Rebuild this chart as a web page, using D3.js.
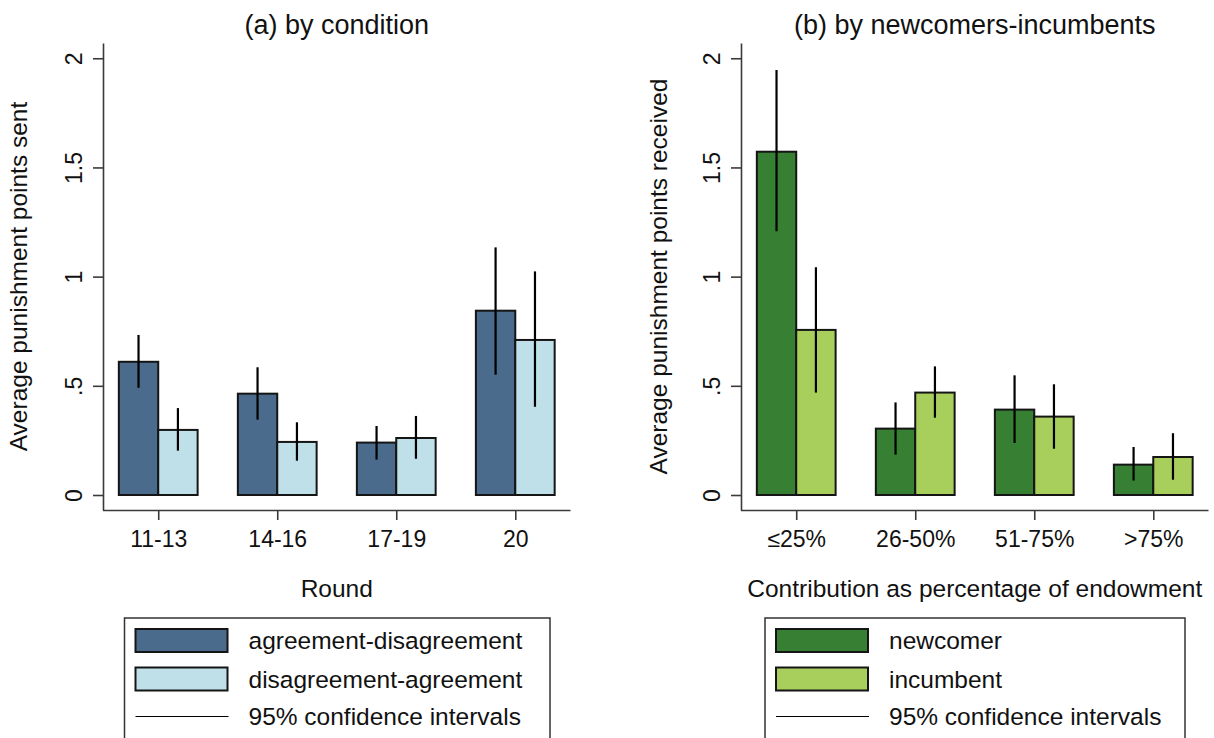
<!DOCTYPE html>
<html>
<head>
<meta charset="utf-8">
<script src="https://cdn.jsdelivr.net/npm/d3@7"></script>
<style>
  html, body { margin: 0; padding: 0; background: #fff; }
  svg { display: block; font-family: "Liberation Sans", Arial, Helvetica, sans-serif; }
</style>
</head>
<body>
<svg id="chart" width="1214" height="738"></svg>
<script>
// ---------- data ----------
const roundCategories = ["11-13", "14-16", "17-19", "20"];
const conditionSeries = ["agreement-disagreement", "disagreement-agreement"];
const agreeDisagree = [0.610, 0.464, 0.240, 0.844];
const agreeDisagreeLo = [0.491, 0.345, 0.162, 0.551];
const agreeDisagreeHi = [0.733, 0.585, 0.316, 1.134];
const disagreeAgree = [0.298, 0.243, 0.261, 0.710];
const disagreeAgreeLo = [0.203, 0.157, 0.166, 0.404];
const disagreeAgreeHi = [0.398, 0.333, 0.362, 1.024];

const contribCategories = ["\u226425%", "26-50%", "51-75%", ">75%"];
const roleSeries = ["newcomer", "incumbent"];
const newcomer = [1.572, 0.304, 0.391, 0.139];
const newcomerLo = [1.208, 0.185, 0.238, 0.066];
const newcomerHi = [1.946, 0.424, 0.548, 0.220];
const incumbent = [0.756, 0.469, 0.359, 0.174];
const incumbentLo = [0.469, 0.354, 0.212, 0.070];
const incumbentHi = [1.043, 0.589, 0.507, 0.283];

const yTickValues = [0, 0.5, 1, 1.5, 2];
const yTickLabels = ["0", ".5", "1", "1.5", "2"];
const ciLabel = "95% confidence intervals";

// ---------- layout ----------
const svg = d3.select("#chart");
const FONT_TICK = 23, FONT_TITLE = 27, FONT_AXIS = 24.5, FONT_LEG = 24.5;
const axisColor = "#3a3a3a";

function panel(opts) {
  const g = svg.append("g");
  const x0 = opts.x0, x1 = opts.x0 + 467.5;
  const x = d3.scalePoint().domain(opts.categories).range([x0, x1]).padding(0.464);
  const y = d3.scaleLinear().domain([-0.0687, 2.0699]).range([510, 43]);
  const barW = x.step() * 0.331;
  const sub = d3.scaleBand().domain(opts.series.map(s => s.name)).range([-barW, barW]);

  // title
  g.append("text").attr("x", (x0 + x1) / 2).attr("y", 34)
    .attr("text-anchor", "middle").attr("font-size", FONT_TITLE).attr("fill", "#111")
    .text(opts.title);

  // bars
  opts.series.forEach(s => {
    const rows = opts.categories.map((c, i) => ({c, v: s.values[i], lo: s.lo[i], hi: s.hi[i]}));
    g.append("g").selectAll("rect").data(rows).join("rect")
      .attr("x", d => x(d.c) + sub(s.name))
      .attr("width", sub.bandwidth())
      .attr("y", d => y(d.v))
      .attr("height", d => y(0) - y(d.v))
      .attr("fill", s.color)
      .attr("stroke", "#151515").attr("stroke-width", 2);
  });
  // CIs
  opts.series.forEach(s => {
    const rows = opts.categories.map((c, i) => ({c, lo: s.lo[i], hi: s.hi[i]}));
    g.append("g").selectAll("line").data(rows).join("line")
      .attr("x1", d => x(d.c) + sub(s.name) + sub.bandwidth() / 2)
      .attr("x2", d => x(d.c) + sub(s.name) + sub.bandwidth() / 2)
      .attr("y1", d => y(d.lo)).attr("y2", d => y(d.hi))
      .attr("stroke", "#000").attr("stroke-width", 2.2);
  });

  // y axis
  const yAxis = d3.axisLeft(y).tickValues(yTickValues)
    .tickFormat((d, i) => yTickLabels[i]).tickSize(10).tickSizeOuter(0);
  const ya = g.append("g").attr("transform", `translate(${x0},0)`).call(yAxis);
  ya.select(".domain").attr("stroke", axisColor).attr("stroke-width", 1.6);
  ya.selectAll(".tick line").attr("stroke", axisColor).attr("stroke-width", 1.6);
  ya.selectAll(".tick text")
    .attr("font-size", FONT_TICK).attr("fill", "#111").attr("font-family", null)
    .attr("x", null).attr("dy", null)
    .attr("text-anchor", "middle")
    .attr("transform", `translate(${-21},0) rotate(-90)`);

  // x axis
  const xAxis = d3.axisBottom(x).tickSize(10).tickSizeOuter(0).tickPadding(16);
  const xa = g.append("g").attr("transform", `translate(0,510)`).call(xAxis);
  xa.select(".domain").attr("stroke", axisColor).attr("stroke-width", 1.6)
    .attr("d", `M${x0},0.5H${x1}`);
  xa.selectAll(".tick line").attr("stroke", axisColor).attr("stroke-width", 1.6);
  xa.selectAll(".tick text").attr("font-size", FONT_TICK).attr("fill", "#111")
    .attr("font-family", null).attr("dy", null).attr("y", 36.5);

  // axis titles
  g.append("text").attr("transform", `translate(${opts.yTitleX},276.5) rotate(-90)`)
    .attr("text-anchor", "middle").attr("font-size", FONT_AXIS).attr("fill", "#111")
    .text(opts.yTitle);
  g.append("text").attr("x", (x0 + x1) / 2).attr("y", 597)
    .attr("text-anchor", "middle").attr("font-size", FONT_AXIS).attr("fill", "#111")
    .text(opts.xTitle);

  // legend
  const lx = opts.legX, lw = opts.legW;
  const leg = g.append("g");
  leg.append("rect").attr("x", lx).attr("y", 618).attr("width", lw).attr("height", 140)
    .attr("fill", "#fff").attr("stroke", "#333").attr("stroke-width", 1.5);
  const sx = lx + opts.swOff;
  opts.series.forEach((s, i) => {
    const ty = 629 + i * 38.5;
    leg.append("rect").attr("x", sx).attr("y", ty).attr("width", 92).attr("height", 23)
      .attr("fill", s.color).attr("stroke", "#151515").attr("stroke-width", 2);
    leg.append("text").attr("x", sx + 113).attr("y", ty + 20)
      .attr("font-size", FONT_LEG).attr("fill", "#111").text(s.name);
  });
  leg.append("line").attr("x1", sx).attr("x2", sx + 93).attr("y1", 716.5).attr("y2", 716.5)
    .attr("stroke", "#000").attr("stroke-width", 1.2);
  leg.append("text").attr("x", sx + 113).attr("y", 725)
    .attr("font-size", FONT_LEG).attr("fill", "#111").text(ciLabel);
}

panel({
  x0: 103, categories: roundCategories, title: "(a) by condition",
  yTitle: "Average punishment points sent", yTitleX: 27, xTitle: "Round",
  legX: 124.5, legW: 425.5, swOff: 11,
  series: [
    {name: conditionSeries[0], values: agreeDisagree, lo: agreeDisagreeLo, hi: agreeDisagreeHi, color: "#4a6b8b"},
    {name: conditionSeries[1], values: disagreeAgree, lo: disagreeAgreeLo, hi: disagreeAgreeHi, color: "#bfe0e8"}
  ]
});
panel({
  x0: 741, categories: contribCategories, title: "(b) by newcomers-incumbents",
  yTitle: "Average punishment points received", yTitleX: 667, xTitle: "Contribution as percentage of endowment",
  legX: 765, legW: 420, swOff: 11,
  series: [
    {name: roleSeries[0], values: newcomer, lo: newcomerLo, hi: newcomerHi, color: "#367f33"},
    {name: roleSeries[1], values: incumbent, lo: incumbentLo, hi: incumbentHi, color: "#a8cf5c"}
  ]
});
</script>
</body>
</html>
